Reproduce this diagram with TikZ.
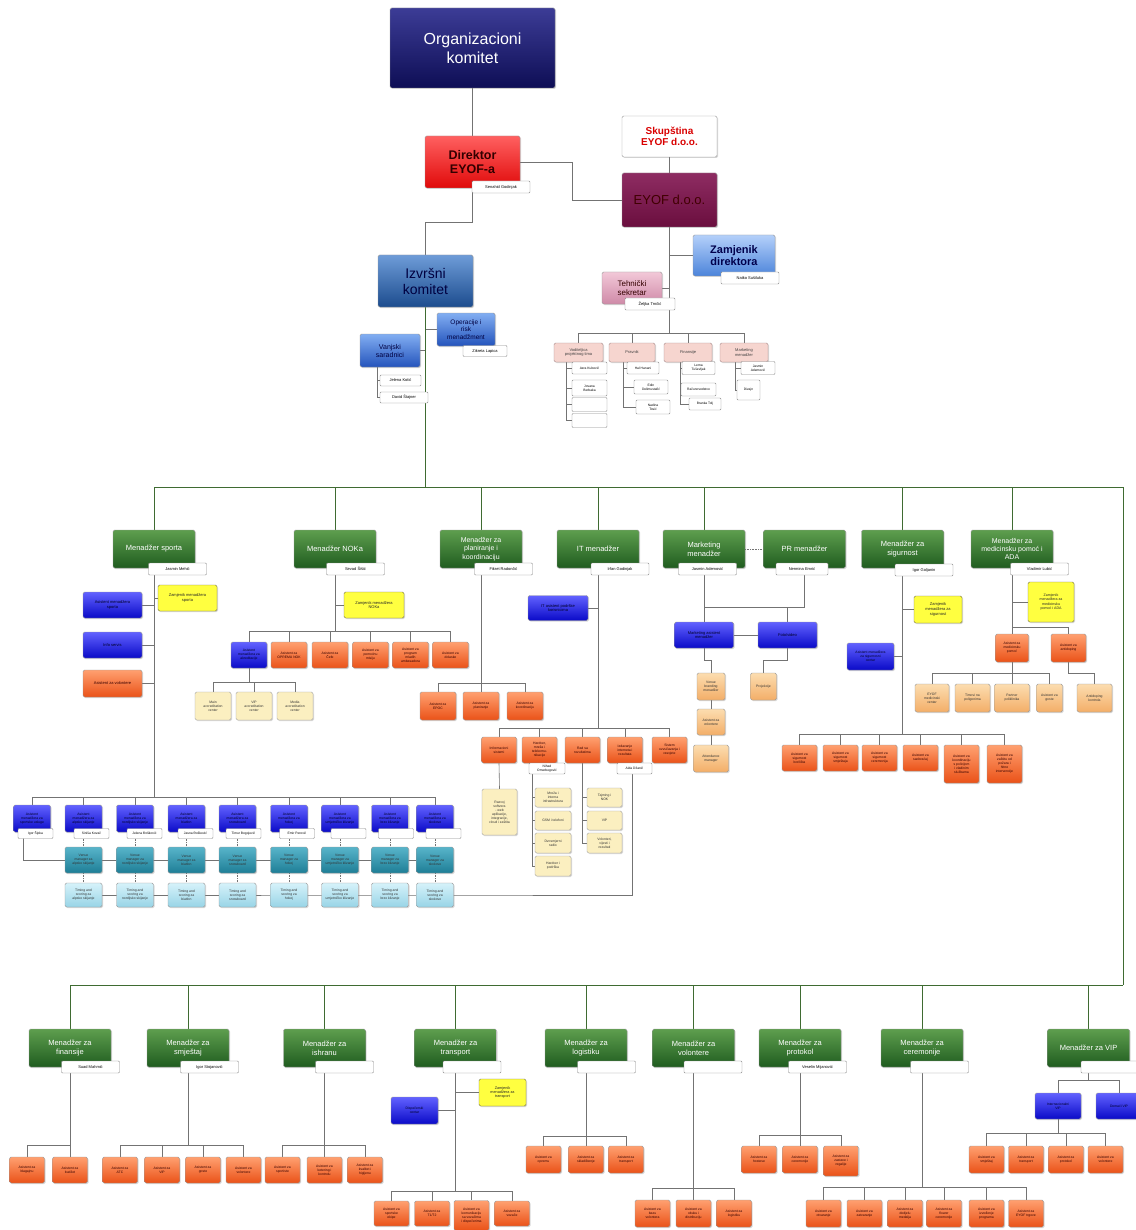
\documentclass[tikz,border=0pt]{standalone}
\usepackage{fontspec}
\setmainfont{Liberation Sans}
\usetikzlibrary{shadows,backgrounds}
\definecolor{nvT}{HTML}{3C3C96}\definecolor{nvB}{HTML}{0E0E55}
\definecolor{rdT}{HTML}{FF6060}\definecolor{rdB}{HTML}{E00A0A}
\definecolor{mrT}{HTML}{8E2C62}\definecolor{mrB}{HTML}{6A0E3E}
\definecolor{zbT}{HTML}{B4D0FA}\definecolor{zbB}{HTML}{4C84DA}
\definecolor{izT}{HTML}{6E9CD8}\definecolor{izB}{HTML}{1C4C8E}
\definecolor{opT}{HTML}{82AEF2}\definecolor{opB}{HTML}{2454BC}
\definecolor{pkT}{HTML}{F2C8D8}\definecolor{pkB}{HTML}{CF8AA8}
\definecolor{lpk}{HTML}{F6D5CF}
\definecolor{grT}{HTML}{5E9E4E}\definecolor{grB}{HTML}{1F5C1F}
\definecolor{yel}{HTML}{FFFF40}
\definecolor{blT}{HTML}{6262FF}\definecolor{blB}{HTML}{0A0AC8}
\definecolor{orT}{HTML}{FFA070}\definecolor{orB}{HTML}{EA5218}
\definecolor{peT}{HTML}{FCDDB0}\definecolor{peB}{HTML}{F3AE68}
\definecolor{crm}{HTML}{FBEFC0}
\definecolor{teT}{HTML}{58B4CA}\definecolor{teB}{HTML}{1E7E96}
\definecolor{cyT}{HTML}{D6F2FA}\definecolor{cyB}{HTML}{98D4E6}
\definecolor{bgr}{HTML}{3F6B32}

\begin{document}
\begin{tikzpicture}[x=1pt,y=-1pt,
    box/.style={draw=black!40,rounded corners=1.5pt,align=center,inner sep=0.5pt,
      drop shadow={opacity=0.3,shadow xshift=1pt,shadow yshift=-1pt}},
    mgr/.style={box,top color=grT,bottom color=grB,text=white,minimum width=82,minimum height=38,font=\fontsize{7.5}{8.8}\selectfont},
    tag/.style={draw=black!45,fill=white,rounded corners=1pt,align=center,inner sep=0.3pt,minimum width=58,minimum height=12,font=\fontsize{4}{4.6}\selectfont},
    stag/.style={tag,minimum width=35,minimum height=11,font=\fontsize{3.3}{3.8}\selectfont},
    small/.style={box,minimum width=35,minimum height=26,font=\fontsize{3.4}{4}\selectfont},
    asst/.style={small,top color=orT,bottom color=orB,text=black!80!red},
    helper/.style={small,top color=blT,bottom color=blB,text=blue!15!black},
    deputy/.style={small,fill=yel,draw=yellow!40!black,text=black!85,font=\fontsize{4}{4.6}\selectfont},
    peach/.style={small,top color=peT,bottom color=peB,text=black!80},
    cream/.style={small,fill=crm,draw=black!35,text=black!80},
    venue/.style={small,minimum width=37,top color=teT,bottom color=teB,text=black!80},
    timing/.style={small,minimum width=37,minimum height=24,top color=cyT,bottom color=cyB,text=black!80},
    legal/.style={small,fill=lpk,draw=red!25!black!45,text=black!75,minimum height=19,font=\fontsize{4}{4.6}\selectfont},
    ln/.style={draw=black!55,line width=0.6pt},
    bus/.style={draw=bgr,line width=1pt}]
  \useasboundingbox (0,0) rectangle (1135,1230);

  \node[box,top color=nvT,bottom color=nvB,text=white,minimum width=165,minimum height=80,font=\fontsize{16}{19}\selectfont] (org) at (472.5,48) {Organizacioni\\komitet};
  \node[box,top color=rdT,bottom color=rdB,text=black!80!red,minimum width=95,minimum height=52,font=\bfseries\fontsize{12.5}{14.5}\selectfont] (dir) at (472.5,162) {Direktor\\EYOF-a};
  \node[tag] (dir-t) at (501,187) {Senahid Godinjak};
  \node[box,fill=white,text=red!85!black,minimum width=95,minimum height=41,font=\bfseries\fontsize{10}{11.5}\selectfont] (skup) at (669.5,136.5) {Skupština\\EYOF d.o.o.};
  \node[box,top color=mrT,bottom color=mrB,text=black!75!red,minimum width=95,minimum height=54,font=\fontsize{13}{15}\selectfont] (eyof) at (669.5,200) {EYOF d.o.o.};
  \node[box,top color=zbT,bottom color=zbB,text=blue!30!black,minimum width=82,minimum height=41,font=\bfseries\fontsize{11}{12.5}\selectfont] (zam) at (734,255.5) {Zamjenik\\direktora};
  \node[tag] (zam-t) at (750,278) {Natko Sušiluka};
  \node[box,top color=pkT,bottom color=pkB,text=black!80!red,minimum width=60,minimum height=32,font=\fontsize{8}{9.5}\selectfont] (teh) at (632,288) {Tehnički\\sekretar};
  \node[tag,minimum width=50] (teh-t) at (650,304) {Željka Trnčić};
  \node[box,top color=izT,bottom color=izB,text=blue!25!black,minimum width=95,minimum height=52,font=\fontsize{14}{16}\selectfont] (izv) at (425.5,281) {Izvršni\\komitet};
  \node[box,top color=opT,bottom color=opB,text=blue!25!black,minimum width=58,minimum height=33,font=\fontsize{6.5}{7.5}\selectfont] (ops) at (466,329.5) {Operacije i\\risk\\menadžment};
  \node[tag,minimum width=44,minimum height=11] (ops-t) at (485,351) {Zikreta Lapica};
  \node[box,top color=opT,bottom color=opB,text=blue!25!black,minimum width=60,minimum height=33,font=\fontsize{7}{8}\selectfont] (vanj) at (390,350.5) {Vanjski\\saradnici};
  \node[tag,minimum width=41,minimum height=11] (vanj-a) at (400.5,380.5) {Jelena Kotić};
  \node[tag,minimum width=48,minimum height=11] (vanj-b) at (404,397.5) {David Štajner};

  \node[legal,minimum width=49] (vod) at (578.5,352.5) {Voditeljica\\projektnog tima};
  \node[legal,minimum width=46] (pra) at (632,352.5) {Pravnik};
  \node[legal,minimum width=48] (fin) at (688,352.5) {Finansije};
  \node[legal,minimum width=48] (mm) at (744,352.5) {Marketing\\menadžer};
  \node[stag,minimum height=12] (vod-a) at (589.5,368) {Azra Kubović};
  \node[stag,minimum height=16] (vod-b) at (589.5,388) {Jovana\\Berbaka};
  \node[stag,minimum height=14] (vod-c) at (589.5,404.5) {};
  \node[stag,minimum height=14] (vod-d) at (589.5,420.5) {};
  \node[stag,minimum width=32,minimum height=12] (pra-a) at (643,368) {Hal Hanani};
  \node[stag,minimum width=34,minimum height=14] (pra-b) at (651,387) {Edin\\Delimustafić};
  \node[stag,minimum width=34,minimum height=14] (pra-c) at (653,407) {Nadina\\Tosić};
  \node[stag,minimum width=33,minimum height=13] (fin-a) at (698.5,368) {Lema\\Tuševljak};
  \node[stag,minimum height=13] (fin-b) at (698.5,389.5) {Računovodstvo};
  \node[stag,minimum width=32,minimum height=12] (fin-c) at (705,404) {Branka Tolj};
  \node[stag,minimum width=34,minimum height=13] (mm-a) at (758,368) {Jasmin\\Ademović};
  \node[stag,minimum width=23,minimum height=20] (mm-b) at (748.5,390) {Dizajn};

  \node[mgr] (ms) at (154,549) {Menadžer sporta};
  \node[mgr] (mn) at (335,549) {Menadžer NOKa};
  \node[mgr,font=\fontsize{7}{8.2}\selectfont] (mp) at (481,549) {Menadžer za\\planiranje i\\koordinaciju};
  \node[mgr] (mit) at (598,549) {IT menadžer};
  \node[mgr] (mmk) at (704,549) {Marketing\\menadžer};
  \node[mgr] (mpr) at (804.5,549) {PR menadžer};
  \node[mgr] (msg) at (902.5,549) {Menadžer za\\sigurnost};
  \node[mgr,font=\fontsize{7}{8.2}\selectfont] (mmed) at (1012,549) {Menadžer za\\medicinsku pomoć i\\ADA};
  \node[tag] (ms-t) at (177.5,569) {Jasmin Mehić};
  \node[tag] (mn-t) at (355.5,569) {Sevad Šišić};
  \node[tag] (mp-t) at (503.5,569) {Fikret Radončić};
  \node[tag] (mit-t) at (620,569) {Irfan Godinjak};
  \node[tag] (mmk-t) at (707.5,569) {Jasmin Ademović};
  \node[tag,minimum width=52] (mpr-t) at (802,569) {Nermina Emrić};
  \node[tag] (msg-t) at (924,570) {Igor Goljanin};
  \node[tag] (mmed-t) at (1039.5,569) {Vladimir Lubić};

  \node[deputy,minimum width=59] (zms) at (187.5,598) {Zamjenik menadžera\\sporta};
  \node[helper,minimum width=59,font=\fontsize{4}{4.6}\selectfont] (ams) at (112.5,605) {Asistent menadžera\\sporta};
  \node[helper,minimum width=59,font=\fontsize{4}{4.6}\selectfont] (info) at (112.5,645) {Info servis};
  \node[asst,minimum width=59,minimum height=27,font=\fontsize{4}{4.6}\selectfont] (avol) at (112.5,683.5) {Asistent za volontere};
  \foreach \x/\s [count=\i] in {32/sportske usluge,83.5/alpsko skijanje,135/nordijsko skijanje,186.5/biatlon,237.5/snowboard,289/hokej,340/umjetničko klizanje,390/brzo klizanje,435/skokove}
    \node[helper,minimum width=37,minimum height=27] (sa\i) at (\x,818.5) {Asistent\\menadžera za\\\s};
  \foreach \x/\n [count=\i] in {35.5/Igor Šipka,91.5/Siniša Kovač,144.5/Jelena Đošković,195.5/Jasna Đošković,243.5/Timur Bogojević,297/Emir Perović,348.5/{},396/{},443.5/{}}
    \node[stag,minimum height=10] (sa\i-t) at (\x,833.5) {\n};
  \foreach \x/\s [count=\i] in {83.5/alpsko skijanje,135/nordijsko skijanje,186.5/biatlon,237.5/snowboard,289/hokej,340/umjetničko klizanje,390/brzo klizanje,435/skokove} {
    \node[venue] (ven\i) at (\x,860) {Venue\\manager za\\\s};
    \node[timing] (tim\i) at (\x,895) {Timing and\\scoring za\\\s};
  }

  \node[deputy,minimum width=60] (zmn) at (374,605) {Zamjenik menadžera\\NOKa};
  \node[helper,minimum width=36] (n1) at (249,655) {Asistent\\menadžera za\\akreditacije};
  \node[asst,minimum width=36] (n2) at (289,655) {Asistent za\\OPREMU NOK};
  \node[asst,minimum width=36] (n3) at (330,655) {Asistent za\\Čefe};
  \node[asst,minimum width=36] (n4) at (370.5,655) {Asistent za\\pomoćnu\\misiju};
  \node[asst,minimum width=36] (n5) at (410.5,655) {Asistent za\\program\\mladih\\ambasadora};
  \node[asst,minimum width=36] (n6) at (450.5,655) {Asistent za\\dolaske};
  \node[cream,minimum width=36,minimum height=28] (ac1) at (213,706) {Main\\accreditation\\center};
  \node[cream,minimum width=36,minimum height=28] (ac2) at (254,706) {VIP\\accreditation\\center};
  \node[cream,minimum width=36,minimum height=28] (ac3) at (295,706) {Media\\accreditation\\center};

  \node[asst,minimum width=36,minimum height=28] (p1) at (438,706) {Asistent za\\EPOC};
  \node[asst,minimum width=36,minimum height=28] (p2) at (481,706) {Asistent za\\planiranje};
  \node[asst,minimum width=36,minimum height=28] (p3) at (525,706) {Asistent za\\koordinaciju};

  \node[helper,minimum width=60,minimum height=25,font=\fontsize{4}{4.6}\selectfont] (ita) at (558,608) {IT asistent podrške\\korisnicima};
  \node[asst] (i1) at (499,750) {Informacioni\\sistemi};
  \node[asst] (i2) at (539.5,750) {Hardver,\\mreža i\\telekomu-\\nikacije};
  \node[asst] (i3) at (582.5,750) {Rad sa\\rezultatima};
  \node[asst] (i4) at (625,750) {Izdavanje\\interneta i\\rezultata};
  \node[asst] (i5) at (669.5,750) {Sistem\\ozvučavanja i\\rasvjete};
  \node[stag,minimum width=36] (i2-t) at (547,768.5) {Nihad\\Omerbegović};
  \node[stag] (i4-t) at (634.5,768.5) {Aida Džanić};
  \node[cream,minimum height=46] (r1) at (499.5,812) {Razvoj\\softvera\\- web\\aplikacije,\\integracije,\\cloud i zaštita};
  \node[cream,minimum width=36,minimum height=19] (h1) at (553,797.5) {Mreža i\\interna\\infrastruktura};
  \node[cream,minimum width=36,minimum height=19] (h2) at (553,820.5) {GSM i telefoni};
  \node[cream,minimum width=36,minimum height=20] (h3) at (553,843) {Dvosmjerni\\radio};
  \node[cream,minimum width=36,minimum height=20] (h4) at (553,866) {Hardver i\\podrška};
  \node[cream,minimum height=19] (q1) at (604.5,797.5) {Tajming i\\NOK};
  \node[cream,minimum height=19] (q2) at (604.5,820.5) {VIP};
  \node[cream,minimum height=20] (q3) at (604.5,843) {Volonteri,\\vijesti i\\rezultati};

  \node[helper,minimum width=59,font=\fontsize{4}{4.6}\selectfont] (mas) at (704,635) {Marketing asistent\\menadžer};
  \node[helper,minimum width=59,font=\fontsize{4}{4.6}\selectfont] (foto) at (787.5,635) {Foto/video};
  \node[peach,minimum width=28,minimum height=27] (vb) at (711,686.5) {Venue\\branding\\menadžer};
  \node[peach,minimum width=26,minimum height=27] (proj) at (763.5,686.5) {Projekcije};
  \node[peach,minimum width=28] (avo) at (711,722) {Asistent za\\volontere};
  \node[peach,minimum height=27] (att) at (711,758.5) {Attendance\\manager};

  \node[deputy,minimum width=48,minimum height=27] (zsg) at (938,609.5) {Zamjenik\\menadžera za\\sigurnost};
  \node[helper,minimum width=47,minimum height=27] (asg) at (870.5,656.5) {Asistent menadžera\\za sigurnosni\\centar};
  \node[asst] (s1) at (799.5,758) {Asistent za\\sigurnost\\borilišta};
  \node[asst] (s2) at (840.5,758) {Asistent za\\sigurnost\\smještaja};
  \node[asst] (s3) at (879.5,758) {Asistent za\\sigurnost\\ceremonija};
  \node[asst] (s4) at (920.5,758) {Asistent za\\saobraćaj};
  \node[asst,minimum height=38] (s5) at (961.5,764) {Asistent za\\koordinaciju\\s policijom\\i vladinim\\službama};
  \node[asst,minimum height=38] (s6) at (1004.5,764) {Asistent za\\zaštitu od\\požara i\\hitne\\intervencije};

  \node[deputy,minimum width=46,minimum height=40,font=\fontsize{3.6}{4.2}\selectfont] (zmed) at (1051,602) {Zamjenik\\menadžera za\\medicinsku\\pomoć i ADA};
  \node[asst,minimum width=33,minimum height=28] (amp) at (1012,648) {Asistent za\\medicinsku\\pomoć};
  \node[asst,minimum height=28] (aad) at (1068.5,648) {Asistent za\\antidoping};
  \node[peach,minimum width=34,minimum height=28] (med1) at (932,698) {EYOF\\medicinski\\centar};
  \node[peach,minimum height=28] (med2) at (972.5,698) {Timovi na\\poligonima};
  \node[peach,minimum height=28] (med3) at (1012,698) {Partner\\poliklinika};
  \node[peach,minimum width=26,minimum height=28] (med4) at (1049.5,698) {Asistent za\\goste};
  \node[peach,minimum height=28] (med5) at (1094.5,698) {Antidoping\\kontrola};

  \node[mgr] (bf) at (70,1048) {Menadžer za\\finansije};
  \node[mgr] (bsm) at (188,1048) {Menadžer za\\smještaj};
  \node[mgr] (bis) at (324.5,1048) {Menadžer za\\ishranu};
  \node[mgr] (btr) at (455.5,1048) {Menadžer za\\transport};
  \node[mgr] (blg) at (586,1048) {Menadžer za\\logistiku};
  \node[mgr] (bvo) at (693.5,1048) {Menadžer za\\volontere};
  \node[mgr] (bpr) at (800,1048) {Menadžer za\\protokol};
  \node[mgr] (bce) at (922,1048) {Menadžer za\\ceremonije};
  \node[mgr] (bvip) at (1088.5,1048) {Menadžer za VIP};
  \node[tag] (bf-t) at (90.5,1067) {Suad Mahmić};
  \node[tag] (bsm-t) at (209.5,1067) {Igor Stojanović};
  \node[tag] (bis-t) at (344.5,1067) {};
  \node[tag] (btr-t) at (472,1067) {};
  \node[tag] (blg-t) at (606.5,1067) {};
  \node[tag] (bvo-t) at (713,1067) {};
  \node[tag] (bpr-t) at (817.5,1067) {Veselin Mijanović};
  \node[tag] (bce-t) at (939.5,1067) {};
  \node[tag] (bvip-t) at (1110,1067) {};

  \node[asst] (f1) at (27,1170) {Asistent za\\blagajnu};
  \node[asst] (f2) at (70,1170) {Asistent za\\budžet};
  \node[asst] (sm1) at (120,1170) {Asistent za\\ATC};
  \node[asst] (sm2) at (162,1170) {Asistent za\\VIP};
  \node[asst] (sm3) at (203,1170) {Asistent za\\goste};
  \node[asst] (sm4) at (243.5,1170) {Asistent za\\volontere};
  \node[asst] (is1) at (282.5,1170) {Asistent za\\sportiste};
  \node[asst] (is2) at (324.5,1170) {Asistent za\\ketering i\\kontrolu};
  \node[asst] (is3) at (365,1170) {Asistent za\\kvalitet i\\higijenu};
  \node[deputy,minimum width=47,minimum height=27,font=\fontsize{3.8}{4.4}\selectfont] (ztr) at (502.5,1092.5) {Zamjenik\\menadžera za\\transport};
  \node[helper,minimum width=47,minimum height=27] (dtr) at (414.5,1110.5) {Dispečerski\\centar};
  \node[asst,minimum height=25] (tr1) at (391.5,1213.5) {Asistent za\\sportske\\ekipe};
  \node[asst,minimum height=25] (tr2) at (432,1213.5) {Asistent za\\T1/T2};
  \node[asst,minimum height=30] (tr3) at (471.5,1215.5) {Asistent za\\komunikaciju\\sa vozačima\\i dispečerima};
  \node[asst,minimum height=25] (tr4) at (512,1213.5) {Asistent za\\vozače};
  \node[asst,minimum height=27] (lg1) at (543.5,1159.5) {Asistent za\\opremu};
  \node[asst,minimum height=27] (lg2) at (586,1159.5) {Asistent za\\skladištenje};
  \node[asst,minimum height=27] (lg3) at (626,1159.5) {Asistent za\\transport};
  \node[asst,minimum height=27] (vo1) at (652.5,1213.5) {Asistent za\\bazu\\volontera};
  \node[asst,minimum height=27] (vo2) at (693.5,1213.5) {Asistent za\\obuku i\\distribuciju};
  \node[asst,minimum height=27] (vo3) at (734,1213.5) {Asistent za\\logistiku};
  \node[asst,minimum height=27] (pr1) at (759,1159.5) {Asistent za\\hostese};
  \node[asst,minimum height=27] (pr2) at (800,1159.5) {Asistent za\\ceremonije};
  \node[asst,minimum height=30] (pr3) at (841,1161) {Asistent za\\zastave i\\regalije};
  \node[asst,minimum height=27] (ce1) at (823.5,1213.5) {Asistent za\\otvaranje};
  \node[asst,minimum height=27] (ce2) at (864.5,1213.5) {Asistent za\\zatvaranje};
  \node[asst,minimum height=27] (ce3) at (905,1213.5) {Asistent za\\dodjelu\\medalja};
  \node[asst,minimum height=27] (ce4) at (944,1213.5) {Asistent za\\flower\\ceremonije};
  \node[asst,minimum height=27] (ce5) at (986.5,1213.5) {Asistent za\\izvođenje\\programa};
  \node[asst,minimum height=27] (ce6) at (1026,1213.5) {Asistent za\\EYOF trgove};
  \node[helper,minimum width=46] (iv) at (1058,1106) {Internacionalni\\VIP};
  \node[helper,minimum width=46] (dv) at (1119,1106) {Domaći VIP};
  \node[asst,minimum height=27] (vip1) at (986.5,1159.5) {Asistent za\\smještaj};
  \node[asst,minimum height=27] (vip2) at (1026,1159.5) {Asistent za\\transport};
  \node[asst,minimum height=27] (vip3) at (1066,1159.5) {Asistent za\\protokol};
  \node[asst,minimum height=27] (vip4) at (1105.5,1159.5) {Asistent za\\volontere};

  \begin{pgfonlayer}{background}
    \fill[white] (0,0) rectangle (1135,1230);
    \draw[ln] (org) -- (dir);
    \draw[ln] (dir.east) -- ++(52,0) |- (eyof.west);
    \draw[ln] (skup) -- (eyof);
    \draw[ln] (dir.south) -- ++(0,34) -| (izv.north);
    \coordinate (tb) at (669.5,333);
    \draw[ln] (eyof.south) -- (tb);
    \draw[ln] (zam.west) -- (zam.west -| eyof.south);
    \draw[ln] (teh.east) -- (teh.east -| eyof.south);
    \foreach \c in {vod,pra,fin,mm} \draw[ln] (tb) -| (\c.north);
    \foreach \t in {vod-a,vod-b,vod-c,vod-d} \draw[ln] ([xshift=-12.5pt]vod.south) |- (\t.west);
    \foreach \t in {pra-a,pra-b,pra-c} \draw[ln] ([xshift=-9pt]pra.south) |- (\t.west);
    \foreach \t in {fin-a,fin-b,fin-c} \draw[ln] ([xshift=-8pt]fin.south) |- (\t.west);
    \foreach \t in {mm-a,mm-b} \draw[ln] ([xshift=-9pt]mm.south) |- (\t.west);
    \draw[ln] (ops.west) -- (ops.west -| izv.south);
    \draw[ln] (vanj.east) -- (vanj.east -| izv.south);
    \foreach \t in {vanj-a,vanj-b} \draw[ln] ([xshift=-13pt]vanj.south) |- (\t.west);

    \coordinate (b1) at (425.5,487);
    \coordinate (b1r) at (1123,487);
    \coordinate (b2r) at (1123,985);
    \draw[bus] (izv.south) -- (b1);
    \draw[bus] (ms.north) |- (b1r) -- (b2r);
    \foreach \m in {mn,mp,mit,mmk,msg,mmed} \draw[bus] (\m.north) -- (\m.north |- b1);
    \draw[bus] (bf.north) |- (b2r);
    \foreach \m in {bsm,bis,btr,blg,bvo,bpr,bce,bvip} \draw[bus] (\m.north) -- (\m.north |- b2r);

    \coordinate (sb) at (154,797);
    \draw[ln] (ms.south) -- (sb);
    \draw[ln] (zms.west) -- (zms.west -| ms.south);
    \foreach \b in {ams,info,avol} \draw[ln] (\b.east) -- (\b.east -| ms.south);
    \foreach \i in {1,...,9} \draw[ln] (sb) -| (sa\i.north);
    \draw[ln] ([xshift=-9pt]sa1.south) |- (ven1.west);
    \draw[ln] (ven1.center) -- (ven8.center);
    \draw[ln] (tim1.center) -- (tim8.center) -| ([xshift=-2.5pt]i4-t.south);
    \foreach \j [count=\i] in {2,...,9} {
      \draw[ln,densely dotted] (ven\i.north |- sa\j-t.south) -- (ven\i.north);
      \draw[ln,densely dotted] (ven\i.south) -- (tim\i.north);
    }

    \coordinate (nb) at (335,631);
    \draw[ln] (mn.south) -- (nb);
    \draw[ln] (zmn.west) -- (zmn.west -| mn.south);
    \foreach \i in {1,...,6} \draw[ln] (nb) -| (n\i.north);
    \draw[ln] (n1.south) -- ++(0,14) coordinate (ab);
    \foreach \i in {1,2,3} \draw[ln] (ab) -| (ac\i.north);

    \coordinate (pb) at (481,683);
    \draw[ln] (mp.south) -- (pb);
    \foreach \i in {1,2,3} \draw[ln] (pb) -| (p\i.north);

    \coordinate (ib) at (598,728);
    \draw[ln] (mit.south) -- (ib);
    \draw[ln] (ita.east) -- (ita.east -| mit.south);
    \foreach \i in {1,...,5} \draw[ln] (ib) -| (i\i.north);
    \draw[ln] (i1.south) -- (r1.north);
    \foreach \i in {1,...,4} \draw[ln] ([xshift=-15pt]i2-t.south) |- (h\i.west);
    \foreach \i in {1,2,3} \draw[ln] (i3.south) |- (q\i.west);

    \draw[ln] (mmk.south) -- (mas.north);
    \draw[ln] (mpr.south) -- ++(0,39) -| (mas.north);
    \draw[ln] (foto.north) -- ++(0,-15);
    \draw[ln,densely dotted] (mmk.east) -- (mpr.west);
    \draw[ln] (mas) -- (foto);
    \draw[ln] (mas.south) -- ++(0,12) -| (vb.north);
    \draw[ln] (foto.south) -- ++(0,12) -| (proj.north);
    \draw[ln] (vb) -- (avo);
    \draw[ln] (avo) -- (att);

    \coordinate (sgb) at (902.5,734);
    \draw[ln] (msg.south) -- (sgb);
    \draw[ln] (zsg.west) -- (zsg.west -| msg.south);
    \draw[ln] (asg.east) -- (asg.east -| msg.south);
    \foreach \i in {1,...,6} \draw[ln] (sgb) -| (s\i.north);

    \coordinate (mdb) at (1012,627);
    \draw[ln] (mmed.south) -- (amp.north);
    \draw[ln] (zmed.west) -- (zmed.west -| mmed.south);
    \draw[ln] (mdb) -| (aad.north);
    \draw[ln] (amp.south) -- ++(0,11) coordinate (mdb2);
    \foreach \i in {1,...,4} \draw[ln] (mdb2) -| (med\i.north);
    \draw[ln] (aad.south) -- ++(0,11) -| (med5.north);

    \coordinate (fb) at (70,1145);
    \draw[ln] (bf.south) -- (f2.north);
    \draw[ln] (fb) -| (f1.north);
    \coordinate (smb) at (188,1145);
    \draw[ln] (bsm.south) -- (smb);
    \foreach \i in {1,...,4} \draw[ln] (smb) -| (sm\i.north);
    \coordinate (isb) at (324.5,1145);
    \draw[ln] (bis.south) -- (isb);
    \foreach \i in {1,2,3} \draw[ln] (isb) -| (is\i.north);
    \coordinate (trb) at (455.5,1191);
    \draw[ln] (btr.south) -- (trb);
    \draw[ln] (ztr.west) -- (ztr.west -| btr.south);
    \draw[ln] (dtr.east) -- (dtr.east -| btr.south);
    \foreach \i in {1,...,4} \draw[ln] (trb) -| (tr\i.north);
    \coordinate (lgb) at (586,1136);
    \draw[ln] (blg.south) -- (lgb);
    \foreach \i in {1,2,3} \draw[ln] (lgb) -| (lg\i.north);
    \coordinate (vob) at (693.5,1188);
    \draw[ln] (bvo.south) -- (vob);
    \foreach \i in {1,2,3} \draw[ln] (vob) -| (vo\i.north);
    \coordinate (prb) at (800,1135);
    \draw[ln] (bpr.south) -- (prb);
    \foreach \i in {1,2,3} \draw[ln] (prb) -| (pr\i.north);
    \coordinate (ceb) at (922,1187);
    \draw[ln] (bce.south) -- (ceb);
    \foreach \i in {1,...,6} \draw[ln] (ceb) -| (ce\i.north);
    \draw[ln] (bvip.south) -- ++(0,13) coordinate (vipb);
    \draw[ln] (vipb) -| (iv.north);
    \draw[ln] (vipb) -| (dv.north);
    \draw[ln] (iv.south) -- ++(0,14) coordinate (ivb);
    \foreach \i in {1,...,4} \draw[ln] (ivb) -| (vip\i.north);
  \end{pgfonlayer}
\end{tikzpicture}
\end{document}
